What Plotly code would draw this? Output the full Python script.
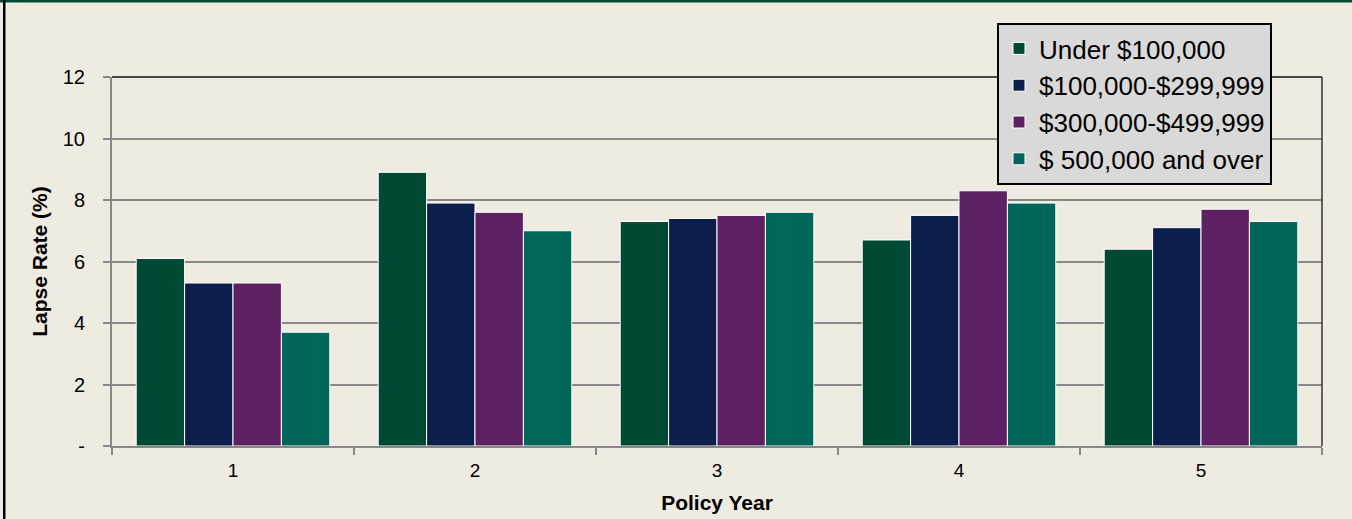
import plotly.graph_objects as go

categories = ["1", "2", "3", "4", "5"]
series_names = ["Under $100,000", "$100,000-$299,999", "$300,000-$499,999", "$ 500,000 and over"]
under_100k = [6.1, 8.9, 7.3, 6.7, 6.4]
from_100k_299k = [5.3, 7.9, 7.4, 7.5, 7.1]
from_300k_499k = [5.3, 7.6, 7.5, 8.3, 7.7]
over_500k = [3.7, 7.0, 7.6, 7.9, 7.3]
y_tickvals = [0, 2, 4, 6, 8, 10, 12]
y_ticktext = ["-", "2", "4", "6", "8", "10", "12"]

colors = ["#004A33", "#0C1F4A", "#5C2063", "#00665A"]
values = [under_100k, from_100k_299k, from_300k_499k, over_500k]

W, H = 1352, 519
ML, MR, MT, MB = 112, 30, 77, 73
PW, PH = W - ML - MR, H - MT - MB
BG = "#EEEBE0"
FONT = "Liberation Sans, Arial, sans-serif"

fig = go.Figure()
for name, vals, col in zip(series_names, values, colors):
    fig.add_trace(go.Bar(
        x=categories, y=vals, name=name,
        marker=dict(color=col, line=dict(color="white", width=1)),
    ))

def px_x(px):
    return (px - ML) / PW

def px_y(py):
    return (H - MB - py) / PH

shapes = [
    # top dark green band
    dict(type="rect", xref="paper", yref="paper", x0=px_x(0), x1=px_x(W),
         y0=px_y(2.5), y1=px_y(0), fillcolor="#004B33", line=dict(width=0), layer="above"),
    # left black border
    dict(type="rect", xref="paper", yref="paper", x0=px_x(3), x1=px_x(5.5),
         y0=px_y(H), y1=px_y(0), fillcolor="#000000", line=dict(width=0), layer="above"),
    # top plot border
    dict(type="line", xref="paper", yref="paper", x0=0, x1=1, y0=1, y1=1,
         line=dict(color="#111111", width=1.5), layer="above"),
    # right plot border
    dict(type="line", xref="paper", yref="paper", x0=1, x1=1, y0=0, y1=1,
         line=dict(color="#333333", width=1.5), layer="above"),
]

fig.update_layout(
    width=W, height=H,
    margin=dict(l=ML, r=MR, t=MT, b=MB, pad=0, autoexpand=False),
    paper_bgcolor=BG, plot_bgcolor=BG,
    barmode="group", bargap=0.2, bargroupgap=0,
    font=dict(family=FONT, color="#000000"),
    showlegend=True,
    legend=dict(
        xref="paper", yref="paper",
        x=px_x(997), y=px_y(23), xanchor="left", yanchor="top",
        bgcolor="#D9D9D9", bordercolor="#000000", borderwidth=2,
        font=dict(family=FONT, size=26, color="#000000"),
        tracegroupgap=0, itemwidth=30,
    ),
    shapes=shapes,
    xaxis=dict(
        type="category", showline=True, linecolor="#878787", linewidth=2,
        ticks="outside", tickson="boundaries", ticklen=7, tickwidth=2, tickcolor="#878787",
        tickfont=dict(family=FONT, size=19, color="#000000"),
        ticklabelstandoff=6,
        showgrid=False,
        title=dict(text="<b>Policy Year</b>", font=dict(family=FONT, size=21, color="#000000"), standoff=16),
    ),
    yaxis=dict(
        range=[0, 12], tickvals=y_tickvals, ticktext=y_ticktext,
        showline=True, linecolor="#878787", linewidth=2,
        ticks="outside", ticklen=7, tickwidth=2, tickcolor="#878787",
        tickfont=dict(family=FONT, size=20, color="#000000"),
        ticklabelstandoff=14,
        showgrid=True, gridcolor="#878787", gridwidth=2,
        zeroline=False,
        title=dict(text="<b>Lapse Rate (%)</b>", font=dict(family=FONT, size=21, color="#000000"), standoff=9),
    ),
)

fig.write_html(
    "out.html",
    config={"displayModeBar": False},
    post_script="document.body.style.margin='0px';document.body.style.padding='0px';"
                "document.body.style.background='" + BG + "';"
                "document.documentElement.style.overflow='hidden';",
)
